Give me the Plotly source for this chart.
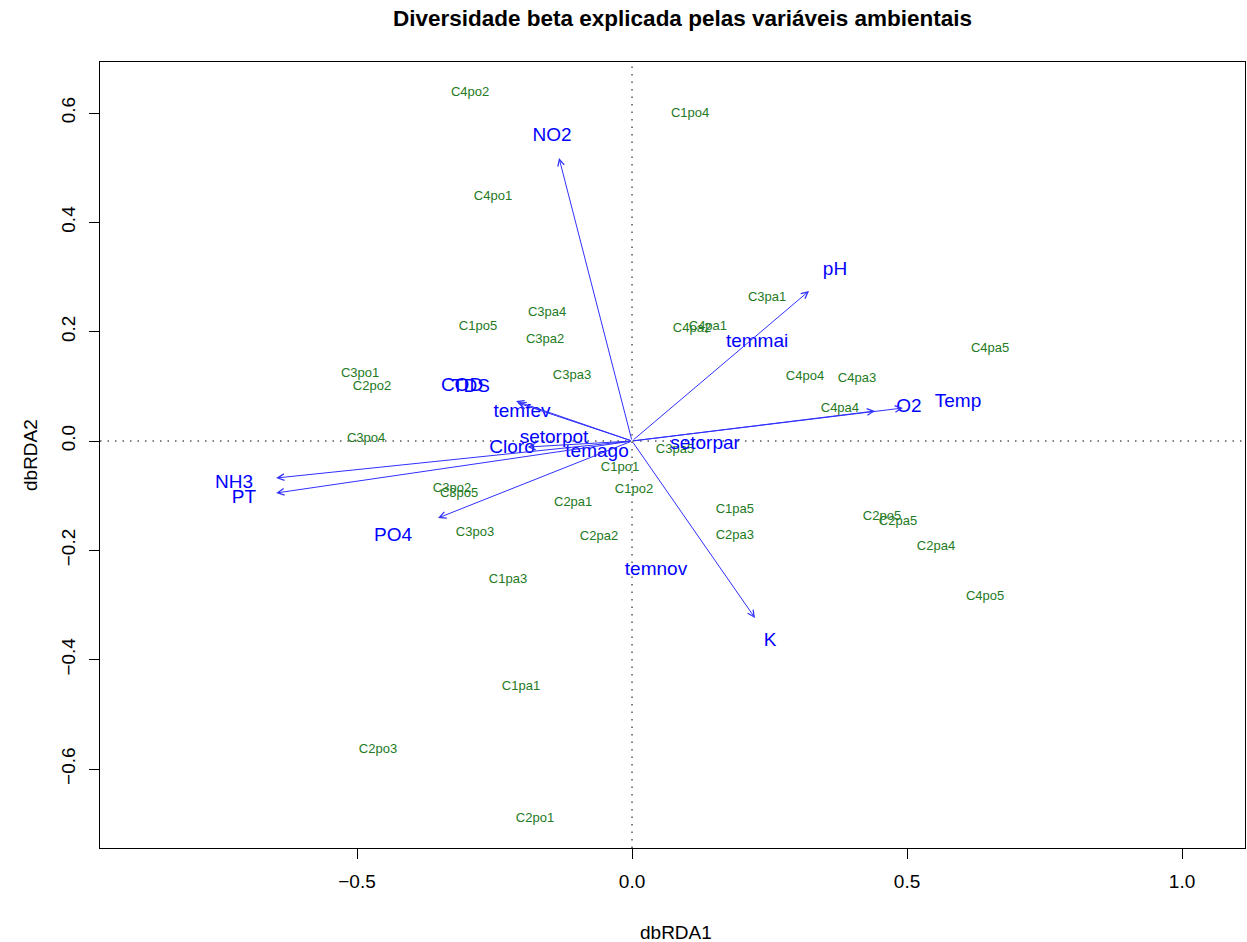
import plotly.graph_objects as go

# ---- Sites (dbRDA1, dbRDA2) ----
site_names = ["C4po2", "C1po4", "C4po1", "C3pa1", "C4pa2", "C4pa1", "C3pa4", "C1po5",
              "C3pa2", "C4pa5", "C3po1", "C2po2", "C3pa3", "C4po4", "C4pa3", "C4pa4",
              "C3po4", "C3pa5", "C1po1", "C3po2", "C3po5", "C1po2", "C2pa1", "C1pa5",
              "C2po5", "C2pa5", "C3po3", "C2pa3", "C2pa2", "C2pa4", "C1pa3", "C4po5",
              "C1pa1", "C2po3", "C2po1"]
site_x = [-0.2945, 0.1055, -0.2527, 0.2455, 0.109, 0.138, -0.1545, -0.28,
          -0.158, 0.651, -0.4945, -0.4727, -0.1091, 0.3145, 0.409, 0.378,
          -0.4836, 0.0782, -0.0218, -0.3273, -0.3145, 0.0036, -0.107, 0.187,
          0.4545, 0.4836, -0.2855, 0.187, -0.06, 0.5527, -0.2255, 0.642,
          -0.2018, -0.4618, -0.1764]
site_y = [0.6366, 0.598, 0.4463, 0.2616, 0.2049, 0.2085, 0.2341, 0.2085,
          0.1847, 0.168, 0.1226, 0.0988, 0.1189, 0.117, 0.1134, 0.0585,
          0.0037, -0.0165, -0.0494, -0.0878, -0.0969, -0.0896, -0.1134, -0.1262,
          -0.1390, -0.148, -0.168, -0.1737, -0.1756, -0.1939, -0.254, -0.285,
          -0.45, -0.565, -0.691]

# ---- Continuous environmental vectors: arrow tips and label positions ----
vec_names = ["NO2", "pH", "O2", "Temp", "K", "NH3", "PT", "PO4", "COD", "TDS", "Cloro"]
vec_x = [-0.1327, 0.3218, 0.4418, 0.4927, 0.2236, -0.647, -0.647, -0.3527, -0.2109, -0.2073, -0.19]
vec_y = [0.5177, 0.2744, 0.0549, 0.0604, -0.3238, -0.0677, -0.0951, -0.1408, 0.0731, 0.0695, -0.011]
vec_lab_x = [-0.1455, 0.369, 0.5036, 0.5927, 0.251, -0.7236, -0.7055, -0.4345, -0.3091, -0.2927, -0.2182]
vec_lab_y = [0.558, 0.3128, 0.0622, 0.0713, -0.366, -0.0768, -0.104, -0.1738, 0.1006, 0.0988, -0.0128]

# ---- Factor centroids ----
fac_names = ["temfev", "setorpot", "temago", "setorpar", "temmai", "temnov"]
fac_x = [-0.2, -0.1418, -0.0636, 0.1327, 0.2273, 0.0436]
fac_y = [0.053, 0.0055, -0.0201, -0.0055, 0.181, -0.236]

x_ticks = [-0.5, 0.0, 0.5, 1.0]
y_ticks = [-0.6, -0.4, -0.2, 0.0, 0.2, 0.4, 0.6]

FONT = "Liberation Sans, Arial, Helvetica, sans-serif"
GREEN = "#237a23"
BLUE = "#0000ff"

fig = go.Figure()

fig.add_trace(go.Scatter(
    x=site_x, y=site_y, text=site_names, mode="text",
    textfont=dict(family=FONT, size=13, color=GREEN),
    textposition="middle center", hoverinfo="text", showlegend=False))

for n, x, y in zip(vec_names, vec_x, vec_y):
    fig.add_annotation(x=x, y=y, ax=0, ay=0, xref="x", yref="y", axref="x", ayref="y",
                       text="", showarrow=True, arrowhead=5, arrowsize=1.3,
                       arrowwidth=1, arrowcolor="#3030ff", standoff=0)

fig.add_trace(go.Scatter(
    x=vec_lab_x, y=vec_lab_y, text=vec_names, mode="text",
    textfont=dict(family=FONT, size=19, color=BLUE),
    textposition="middle center", hoverinfo="text", showlegend=False))

fig.add_trace(go.Scatter(
    x=fac_x, y=fac_y, text=fac_names, mode="text",
    textfont=dict(family=FONT, size=19, color=BLUE),
    textposition="middle center", hoverinfo="text", showlegend=False))

# dotted zero lines
fig.add_shape(type="line", xref="x", yref="paper", x0=0, x1=0, y0=0, y1=1,
              line=dict(color="black", width=1, dash="1.5px,6px"), layer="below")
fig.add_shape(type="line", xref="paper", yref="y", x0=0, x1=1, y0=0, y1=0,
              line=dict(color="black", width=1, dash="1.5px,6px"), layer="below")

W, H = 1247, 942
L, R, T, B = 100, 2, 62, 94
ph = H - T - B
pw = W - L - R

fig.update_layout(
    width=W, height=H, autosize=False,
    margin=dict(l=L, r=R, t=T, b=B),
    paper_bgcolor="white", plot_bgcolor="white",
    font=dict(family=FONT, size=19, color="black"),
    showlegend=False,
    xaxis=dict(range=[-0.9673, 1.1145], tickvals=x_ticks, tickformat=".1f",
               showgrid=False, zeroline=False, showline=True, linecolor="black",
               linewidth=1, mirror=True, ticks="outside", ticklen=10,
               tickcolor="black", tickfont=dict(size=19, family=FONT),
               ticklabelstandoff=6),
    yaxis=dict(range=[-0.7445, 0.6933], tickvals=y_ticks, tickformat=".1f",
               showgrid=False, zeroline=False, showline=True, linecolor="black",
               linewidth=1, mirror=True, ticks="outside", ticklen=10,
               tickcolor="black", tickfont=dict(size=19, family=FONT),
               tickangle=-90, ticklabelstandoff=6),
)

fig.add_annotation(text="<b>Diversidade beta explicada pelas variáveis ambientais</b>",
                   xref="paper", yref="paper", x=(682 - L) / pw, y=1 + (T - 18) / ph,
                   xanchor="center", yanchor="middle", showarrow=False,
                   font=dict(family=FONT, size=22.5, color="black"))
fig.add_annotation(text="dbRDA1", xref="paper", yref="paper",
                   x=(676 - L) / pw, y=-(932 - (H - B)) / ph,
                   xanchor="center", yanchor="middle", showarrow=False,
                   font=dict(family=FONT, size=19, color="black"))
fig.add_annotation(text="dbRDA2", xref="paper", yref="paper",
                   x=(30 - L) / pw, y=0.5, textangle=-90,
                   xanchor="center", yanchor="middle", showarrow=False,
                   font=dict(family=FONT, size=19, color="black"))

fig.write_html("out.html",
               config={"displayModeBar": False},
               post_script="document.body.style.margin='0';document.body.style.padding='0';"
                           "document.documentElement.style.overflow='hidden';")
